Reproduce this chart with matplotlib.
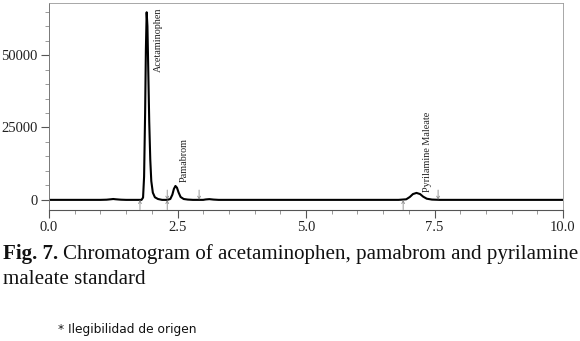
import matplotlib
matplotlib.use("Agg")
import matplotlib.pyplot as plt
from matplotlib.ticker import MultipleLocator

# Trace (time in min, signal)
time = [0.0, 0.5, 1.0, 1.12, 1.2, 1.25, 1.3, 1.4, 1.5, 1.7, 1.80, 1.83, 1.85, 1.87, 1.885,
        1.90, 1.915, 1.93, 1.95, 1.97, 1.99, 2.02, 2.06, 2.12, 2.2, 2.30, 2.36, 2.40,
        2.43, 2.46, 2.49, 2.52, 2.56, 2.62, 2.70, 2.8, 3.0, 3.05, 3.12, 3.2, 3.3, 4.0,
        5.0, 6.0, 6.8, 6.95, 7.02, 7.08, 7.15, 7.22, 7.28, 7.35, 7.45, 7.6, 8.5, 10.0]
signal = [0, 0, 0, 60, 200, 300, 200, 60, 0, 0, 0, 800, 8000, 30000, 52000,
          64800, 60000, 46000, 27000, 14000, 6500, 2500, 900, 300, 0, 0, 300, 1800,
          3800, 4800, 4200, 2600, 1000, 300, 100, 0, 0, 150, 250, 100, 0, 0,
          0, 0, 0, 200, 1000, 2000, 2400, 2000, 1100, 400, 100, 0, 0, 0]

peak_names = ["Acetaminophen", "Pamabrom", "Pyrilamine Maleate"]
peak_label_x = [2.13, 2.63, 7.37]
peak_label_top = [66500, 21500, 30500]

marker_up_x = [1.77, 2.30, 6.89]      # arrows from below
marker_down_x = [2.30, 2.92, 7.57]    # arrows from above

x_ticks = [0.0, 2.5, 5.0, 7.5, 10.0]
y_ticks = [0, 25000, 50000]

fig = plt.figure(figsize=(5.8, 3.41), dpi=100)
W, H = 580, 341
ax = fig.add_axes([49 / W, 1 - 210 / H, (563 - 49) / W, (210 - 3) / H])

ax.plot(time, signal, color="black", lw=1.5, solid_joinstyle="round")

serif = "Liberation Serif"
for name, xx, yy in zip(peak_names, peak_label_x, peak_label_top):
    ax.text(xx, yy, name, rotation=90, ha="center", va="top",
            fontsize=7.3, family=serif, color="#222222")

for xx in marker_up_x:
    ax.annotate("", xy=(xx, 0), xytext=(xx, -3400),
                arrowprops=dict(arrowstyle="->", color="#888888", lw=0.6,
                                mutation_scale=5, shrinkA=0, shrinkB=0),
                annotation_clip=False)
for xx in marker_down_x:
    ax.annotate("", xy=(xx, 0), xytext=(xx, 3400),
                arrowprops=dict(arrowstyle="->", color="#888888", lw=0.6,
                                mutation_scale=5, shrinkA=0, shrinkB=0))

ax.set_xlim(0, 10)
ax.set_ylim(-3500, 68000)
ax.set_xticks(x_ticks)
ax.set_xticklabels([f"{v:.1f}" for v in x_ticks])
ax.set_yticks(y_ticks)
ax.set_yticklabels([str(v) for v in y_ticks])
ax.xaxis.set_minor_locator(MultipleLocator(0.5))
ax.yaxis.set_minor_locator(MultipleLocator(5000))

ax.tick_params(axis="both", which="major", direction="out", length=6, width=0.8,
               color="#555555", labelsize=10.5, pad=2)
ax.tick_params(axis="both", which="minor", direction="out", length=3, width=0.6,
               color="#888888")
for lab in ax.get_xticklabels() + ax.get_yticklabels():
    lab.set_family(serif)
    lab.set_color("#222222")

for side in ["top", "right"]:
    ax.spines[side].set_color("#999999")
    ax.spines[side].set_linewidth(0.6)
ax.spines["left"].set_color("#777777")
ax.spines["left"].set_linewidth(0.7)
ax.spines["bottom"].set_color("#555555")
ax.spines["bottom"].set_linewidth(0.8)

# Caption
cap_size = 15.1
cap_y = 1 - 259.5 / H
t1 = fig.text(3 / W, cap_y, "Fig. 7.", fontsize=cap_size, family=serif,
              weight="bold", color="#111111", va="baseline")
fig.canvas.draw()
r = fig.canvas.get_renderer()
bb = t1.get_window_extent(renderer=r)
fig.text(bb.x1 / W + 5 / W, cap_y,
         "Chromatogram of acetaminophen, pamabrom and pyrilamine",
         fontsize=cap_size, family=serif, color="#111111", va="baseline")
fig.text(3 / W, 1 - 283.5 / H, "maleate standard", fontsize=cap_size, family=serif,
         color="#111111", va="baseline")

fig.text(58 / W, 1 - 333 / H, "* Ilegibilidad de origen", fontsize=8.8,
         family="DejaVu Sans", color="#111111", va="baseline")

fig.savefig("out.png", dpi=100)
